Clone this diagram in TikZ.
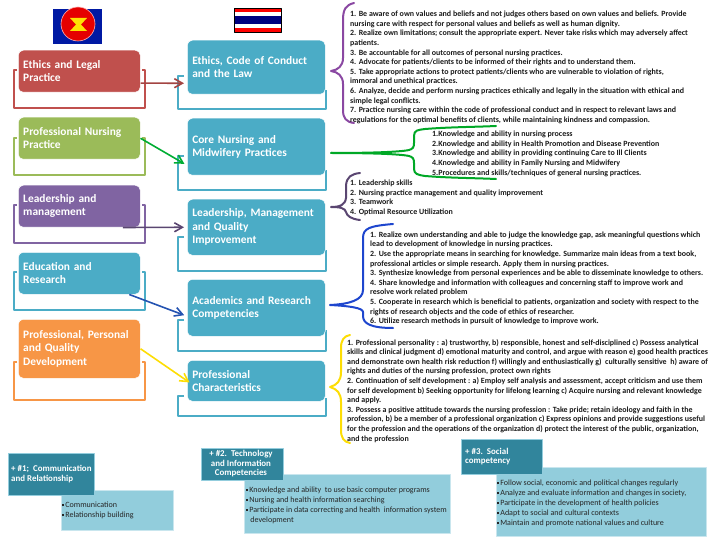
\documentclass[tikz,border=0pt]{standalone}
\usepackage{fontspec}
\setmainfont{Carlito}
\usetikzlibrary{arrows.meta}
\definecolor{cred}{HTML}{C0504D}
\definecolor{cgreen}{HTML}{9BBB59}
\definecolor{cpurple}{HTML}{8064A2}
\definecolor{cteal}{HTML}{4BACC6}
\definecolor{corange}{HTML}{F79646}
\definecolor{cdark}{HTML}{31859C}
\definecolor{clight}{HTML}{92CDDC}
\newcommand{\sqbul}{\rule[1.5pt]{1.8pt}{1.8pt}\,}
\begin{document}
\begin{tikzpicture}[x=1pt, y=-1pt, line join=round]
    \tikzstyle{leftbox} = [draw=white, line width=0.5pt, rounded corners=5pt, minimum width=122pt, minimum height=42pt, text width=112pt, align=left, inner xsep=5pt, inner ysep=0pt, text=white, font=\fontsize{11.4}{13.4}\selectfont\bfseries, anchor=north west]
    \tikzstyle{rightbox} = [leftbox, fill=cteal, minimum width=138pt, text width=128pt]
    \tikzstyle{bracket_style} = [line width=1.2pt]
    \tikzstyle{arrow_style} = [line width=1.6pt, shorten >=3pt, -{Straight Barb[length=8pt,width=9pt]}]
    \tikzstyle{brace_style} = [line width=2pt, line cap=round]
    \tikzstyle{list_text} = [inner sep=0pt, anchor=north west, align=left, text=black!90, font=\fontsize{7.95}{9.6}\selectfont\bfseries]
    \tikzstyle{tag_box} = [fill=cdark, draw=cteal!60, line width=0.4pt, inner sep=0pt, anchor=north west]
    \tikzstyle{tag_label} = [inner sep=0pt, text=white, font=\fontsize{8.9}{9.4}\selectfont\bfseries]
    \tikzstyle{tag_body} = [fill=clight, draw=cteal!30, line width=0.3pt, inner sep=0pt, anchor=north west]
    \tikzstyle{tag_text} = [inner sep=0pt, anchor=north west, align=left, text=black!85, font=\fontsize{8.05}{10}\selectfont]
    \useasboundingbox (0,0) rectangle (720,540);
    % flags
    \fill[blue!60!black!90!cyan] (53,9) rectangle (102,44);
    \fill[red!90!black] (78,24) circle (17);
    \draw[white!70!red, line width=0.6pt] (78,24) circle (17);
    \fill[yellow!85!orange] (70,18) -- (87,18) -- (81,24.5) -- (87,31) -- (70,31) -- (76,24.5) -- cycle;
    \fill[red] (234,8) rectangle (281,32);
    \fill[white] (234,12) rectangle (281,28);
    \fill[blue!50!black] (234,16) rectangle (281,24);
    \draw[black, line width=0.7pt] (234,8) rectangle (281,32);
    % brackets behind the boxes
    \draw[bracket_style, cred] (17,70) -- (14,70) -- (14,108) -- (145,108) -- (145,70) -- (142,70);
    \draw[bracket_style, cgreen] (17,138) -- (14,138) -- (14,175) -- (145,175) -- (145,138) -- (142,138);
    \draw[bracket_style, cpurple] (17,205) -- (14,205) -- (14,243) -- (145,243) -- (145,205) -- (142,205);
    \draw[bracket_style, cteal] (17,272) -- (14,272) -- (14,310) -- (145,310) -- (145,272) -- (142,272);
    \draw[bracket_style, corange] (17,362) -- (14,362) -- (14,400) -- (145,400) -- (145,362) -- (142,362);
    \draw[bracket_style, cteal] (184,76) -- (178,76) -- (178,109) -- (326,109) -- (326,90);
    \draw[bracket_style, cteal] (184,156) -- (178,156) -- (178,190) -- (326,190) -- (326,170);
    \draw[bracket_style, cteal] (184,237) -- (178,237) -- (178,271) -- (326,271) -- (326,250);
    \draw[bracket_style, cteal] (184,320) -- (178,320) -- (178,351) -- (326,351) -- (326,330);
    \draw[bracket_style, cteal] (184,396) -- (178,396) -- (178,416) -- (326,416) -- (326,398);
    % left column
    \node[leftbox, fill=cred] (legal) at (18,50) {Ethics and Legal\\Practice};
    \node[leftbox, fill=cgreen] (nursing) at (18,117) {Professional Nursing\\Practice};
    \node[leftbox, fill=cpurple] (lead) at (18,185) {Leadership and\\management};
    \node[leftbox, fill=cteal] (edu) at (18,252) {Education and\\Research};
    \node[leftbox, fill=corange, minimum height=59pt] (quality) at (18,319) {Professional, Personal\\and Quality\\Development};
    % right column
    \node[rightbox, minimum height=54pt] (ethics) at (187,40) {Ethics, Code of Conduct\\and the Law};
    \node[rightbox, minimum height=57pt] (core) at (187,118) {Core Nursing and\\Midwifery Practices};
    \node[rightbox, minimum height=56pt] (manage) at (187,199) {Leadership, Management\\and Quality\\Improvement};
    \node[rightbox, minimum height=57pt] (academic) at (187,279) {Academics and Research\\Competencies};
    \node[rightbox, minimum height=41pt] (charact) at (187,360) {Professional\\Characteristics};
    % arrows
    \draw[arrow_style, cred!85!black] (legal.-11) -- (ethics.193);
    \draw[arrow_style, green!60!black!80!cyan] (nursing.east) -- (core.195);
    \draw[arrow_style, cpurple!70!black] (lead.-26) -- (manage.west);
    \draw[arrow_style, blue!40!cteal!80!black] (edu.-23) -- (academic.187);
    \draw[arrow_style, yellow!80!orange, shorten >=-3pt] (quality.east) -- (charact.west);
    % braces
    \draw[brace_style, cpurple!80!magenta!90!black] (354,3) .. controls (346,5) and (343,9) .. (343,20) -- (343,58) .. controls (343,66) and (338,70) .. (331,71) .. controls (338,72) and (343,76) .. (343,84) -- (343,110) .. controls (343,118) and (346,122) .. (354,123);
    \draw[brace_style, green!60!black!85!cyan] (331,153) .. controls (370,153) and (400,152) .. (409,150) .. controls (413,149) and (414,147) .. (414,143) -- (414,136) .. controls (414,130) and (418,130) .. (425,129) .. controls (450,127) and (475,127) .. (496,126);
    \draw[brace_style, green!60!black!85!cyan] (331,153) .. controls (370,153) and (400,154) .. (409,156) .. controls (413,157) and (414,159) .. (414,163) -- (414,169) .. controls (414,174) and (418,175) .. (425,176) .. controls (450,178) and (475,178) .. (496,179);
    \draw[brace_style, cpurple!70!black] (360,173) .. controls (351,174) and (347,177) .. (346,185) -- (346,198) .. controls (345,205) and (340,207) .. (331,207) .. controls (340,207) and (345,208) .. (346,212) .. controls (347,216) and (351,219) .. (360,220);
    \draw[brace_style, blue!55!cteal!90!black] (393,224) .. controls (370,226) and (363,228) .. (363,238) -- (363,290) .. controls (363,300) and (350,304) .. (330,305) .. controls (350,306) and (363,308) .. (363,312) -- (363,316) .. controls (363,324) and (372,328) .. (393,328);
    \draw[brace_style, yellow!80!orange] (350,335) .. controls (344,336) and (341,340) .. (341,348) -- (341,372) .. controls (341,381) and (337,385) .. (330,387) .. controls (337,389) and (341,393) .. (341,402) -- (341,430) .. controls (341,438) and (344,442) .. (350,443);
    % lists
    \node[list_text] (list_ethics) at (350,11) {1. Be aware of own values and beliefs and not judges others based on own values and beliefs. Provide\\
    nursing care with respect for personal values and beliefs as well as human dignity.\\
    2. Realize own limitations; consult the appropriate expert. Never take risks which may adversely affect\\
    patients.\\
    3. Be accountable for all outcomes of personal nursing practices.\\
    4. Advocate for patients/clients to be informed of their rights and to understand them.\\
    5. Take appropriate actions to protect patients/clients who are vulnerable to violation of rights,\\
    immoral and unethical practices.\\
    6. Analyze, decide and perform nursing practices ethically and legally in the situation with ethical and\\
    simple legal conflicts.\\
    7. Practice nursing care within the code of professional conduct and in respect to relevant laws and\\
    regulations for the optimal benefits of clients, while maintaining kindness and compassion.};
    \node[list_text] (list_core) at (432,131) {1.Knowledge and ability in nursing process\\
    2.Knowledge and ability in Health Promotion and Disease Prevention\\
    3.Knowledge and ability in providing continuing Care to Ill Clients\\
    4.Knowledge and ability in Family Nursing and Midwifery\\
    5.Procedures and skills/techniques of general nursing practices.};
    \node[list_text] (list_manage) at (350,180) {1. Leadership skills\\
    2. Nursing practice management and quality improvement\\
    3. Teamwork\\
    4. Optimal Resource Utilization};
    \node[list_text] (list_academic) at (370,231.5) {1. Realize own understanding and able to judge the knowledge gap, ask meaningful questions which\\
    lead to development of knowledge in nursing practices.\\
    2. Use the appropriate means in searching for knowledge. Summarize main ideas from a text book,\\
    professional articles or simple research. Apply them in nursing practices.\\
    3. Synthesize knowledge from personal experiences and be able to disseminate knowledge to others.\\
    4. Share knowledge and information with colleagues and concerning staff to improve work and\\
    resolve work related problem\\
    5. Cooperate in research which is beneficial to patients, organization and society with respect to the\\
    rights of research objects and the code of ethics of researcher.\\
    6. Utilize research methods in pursuit of knowledge to improve work.};
    \node[list_text] (list_charact) at (347,339) {1. Professional personality : a) trustworthy, b) responsible, honest and self-disciplined c) Possess analytical\\
    skills and clinical judgment d) emotional maturity and control, and argue with reason e) good health practices\\
    and demonstrate own health risk reduction f) willingly and enthusiastically g)\ \ culturally sensitive\ \ h) aware of\\
    rights and duties of the nursing profession, protect own rights\\
    2. Continuation of self development : a) Employ self analysis and assessment, accept criticism and use them\\
    for self development b) Seeking opportunity for lifelong learning c) Acquire nursing and relevant knowledge\\
    and apply.\\
    3. Possess a positive attitude towards the nursing profession : Take pride; retain ideology and faith in the\\
    profession, b) be a member of a professional organization c) Express opinions and provide suggestions useful\\
    for the profession and the operations of the organization d) protect the interest of the public, organization,\\
    and the profession};
    % bottom panels
    \node[tag_body, minimum width=112pt, minimum height=40pt] (body_one) at (61,490) {};
    \node[tag_box, minimum width=86pt, minimum height=42pt] (tag_one) at (8,453) {};
    \node[tag_label, anchor=north west, align=left] (tag_one_text) at (11,465.5) {+ \#1;\ \ Communication\\and Relationship};
    \node[tag_text] (text_one) at (62,502) {\sqbul Communication\\\sqbul Relationship building};
    \node[tag_body, minimum width=206pt, minimum height=59pt] (body_two) at (244,474) {};
    \node[tag_box, minimum width=82pt, minimum height=32pt] (tag_two) at (201,448) {};
    \node[tag_label, anchor=north, align=center] (tag_two_text) at (241,450.5) {+ \#2.\ \ Technology\\and Information\\Competencies};
    \node[tag_text] (text_two) at (246,486.5) {\sqbul Knowledge and ability\ \ to use basic computer programs\\\sqbul Nursing and health information searching\\\sqbul Participate in data correcting and health\ \ information system\\\hspace*{4.2pt}development};
    \node[tag_body, minimum width=210pt, minimum height=69pt] (body_three) at (496,467) {};
    \node[tag_box, minimum width=81pt, minimum height=35pt] (tag_three) at (461,439) {};
    \node[tag_label, anchor=north west, align=left] (tag_three_text) at (465,448) {+ \#3.\ \ Social\\competency};
    \node[tag_text] (text_three) at (497,480) {\sqbul Follow social, economic and political changes regularly\\\sqbul Analyze and evaluate information and changes in society,\\\sqbul Participate in the development of health policies\\\sqbul Adapt to social and cultural contexts\\\sqbul Maintain and promote national values and culture};
\end{tikzpicture}
\end{document}
